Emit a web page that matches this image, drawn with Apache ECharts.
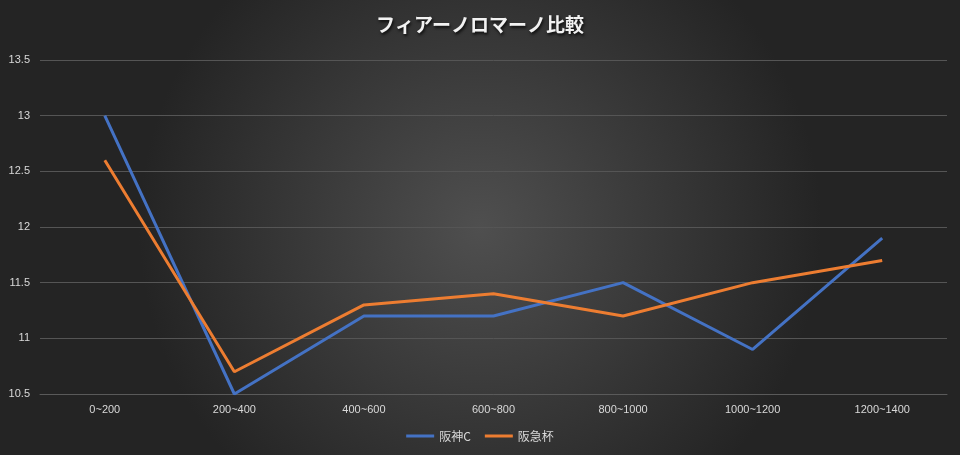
<!DOCTYPE html>
<html>
<head>
<meta charset="utf-8">
<script src="https://cdn.jsdelivr.net/npm/echarts@6/dist/echarts.min.js"></script>
<style>
  html, body { margin: 0; padding: 0; }
  #chart { width: 960px; height: 455px; }
</style>
</head>
<body>
<div id="chart"></div>
<script>
  // 距離区分
  const categories = ['0~200', '200~400', '400~600', '600~800', '800~1000', '1000~1200', '1200~1400'];
  // 系列ごとの値
  const hanshinC = [13, 10.5, 11.2, 11.2, 11.5, 10.9, 11.9];
  const hankyuHai = [12.6, 10.7, 11.3, 11.4, 11.2, 11.5, 11.7];

  const chart = echarts.init(document.getElementById('chart'));
  chart.setOption({
    backgroundColor: {
      type: 'radial', x: 0.5, y: 0.5, r: 0.75,
      colorStops: [
        { offset: 0, color: '#4f4f4f' },
        { offset: 1, color: '#242424' }
      ]
    },
    animation: false,
    title: {
      text: 'フィアーノロマーノ比較',
      left: 'center',
      top: 10,
      textStyle: {
        color: '#f2f2f2',
        fontSize: 19,
        fontWeight: 'bold',
        fontFamily: 'Noto Sans CJK JP',
        textShadowColor: 'rgba(0,0,0,0.8)',
        textShadowBlur: 3,
        textShadowOffsetX: 1,
        textShadowOffsetY: 2
      }
    },
    legend: {
      bottom: 8,
      itemWidth: 28,
      itemHeight: 3,
      icon: 'rect',
      itemGap: 14,
      textStyle: { color: '#d9d9d9', fontSize: 12, fontFamily: 'Noto Sans CJK JP' },
      data: ['阪神C', '阪急杯']
    },
    grid: { left: 40, right: 13, top: 60, bottom: 61 },
    xAxis: {
      type: 'category',
      data: categories,
      axisLine: { lineStyle: { color: '#5a5a5a' } },
      axisTick: { show: false },
      axisLabel: { color: '#d9d9d9', fontSize: 11, margin: 10 }
    },
    yAxis: {
      type: 'value',
      min: 10.5,
      max: 13.5,
      interval: 0.5,
      axisLine: { show: false },
      axisTick: { show: false },
      axisLabel: { color: '#d9d9d9', fontSize: 11, margin: 10 },
      splitLine: { lineStyle: { color: '#555555' } }
    },
    series: [
      {
        name: '阪神C',
        type: 'line',
        data: hanshinC,
        symbol: 'none',
        color: '#4472C4',
        lineStyle: { width: 3 }
      },
      {
        name: '阪急杯',
        type: 'line',
        data: hankyuHai,
        symbol: 'none',
        color: '#ED7D31',
        lineStyle: { width: 3 }
      }
    ]
  });
</script>
</body>
</html>
